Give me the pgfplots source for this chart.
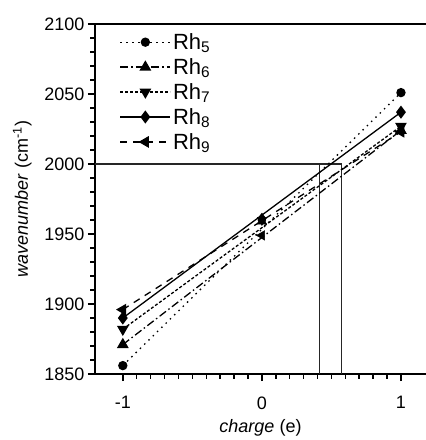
\documentclass[border=0pt]{standalone}
\usepackage{fontspec}
\setmainfont{Liberation Sans}
\usepackage{pgfplots}
\pgfplotsset{compat=1.18}

\begin{document}
\begin{tikzpicture}
\useasboundingbox (-95pt,-66pt) rectangle (331pt,374pt);
\begin{axis}[
    name=ax,
    at={(0,0)}, anchor=south west,
    scale only axis,
    width=331pt, height=350pt,
    xmin=-1.2, xmax=1.18,
    ymin=1850, ymax=2100,
    axis x line*=bottom, axis y line*=left,
    axis line style={line width=1.8pt},
    xtick={-1,0,1}, xticklabels={-1,0,1},
    minor x tick num=9,
    ytick={1850,1900,...,2100},
    minor y tick num=4,
    tick align=outside,
    major tick length=7pt, minor tick length=4.5pt,
    tick style={black, line width=1.5pt},
    /pgf/number format/assume math mode=true,
    /pgf/number format/1000 sep={},
    tick label style={font=\fontsize{18}{19}\selectfont},
    xticklabel style={yshift=-12pt},
    label style={font=\fontsize{18}{19}\selectfont},
    xlabel={\textit{charge} (e)},
    ylabel={\textit{wavenumber} (cm\textsuperscript{-1})},
    xlabel style={yshift=-3pt},
    ylabel style={yshift=6pt},
    legend style={draw=none, fill=none, at={(0.065,0.985)}, anchor=north west,
        font=\fontsize{22}{23}\selectfont, row sep=3.5pt,
        /tikz/every even column/.append style={column sep=1pt}},
    legend cell align=left,
    legend image code/.code={
        \draw[mark repeat=2, mark phase=2, #1] plot coordinates {(0pt,0pt) (25pt,0pt) (50pt,0pt)};
    },
    clip=false,
]
% reference lines
\draw[black!85, line width=1.1pt] (axis cs:-1.2,2000) -- (axis cs:0.573,2000);
\draw[black!85, line width=1.1pt] (axis cs:0.417,1850) -- (axis cs:0.417,2000);
\draw[black!85, line width=1.1pt] (axis cs:0.573,1850) -- (axis cs:0.573,2000);
\draw[black, line width=1.8pt] (rel axis cs:0,1) -- (rel axis cs:1,1);

% Rh5
\addplot[black, line width=1.3pt, dash pattern=on 1.5pt off 4.5pt, mark=*, mark size=4pt, mark options={solid}]
    coordinates {(-1,1856) (1,2051)};
\addlegendentry{Rh\textsubscript{5}}
% Rh6
\addplot[black, line width=1.3pt, dash pattern=on 8pt off 3pt on 1.5pt off 3pt, mark=triangle*, mark size=5.5pt, mark options={solid}]
    coordinates {(-1,1871) (1,2024)};
\addlegendentry{Rh\textsubscript{6}}
% Rh7
\addplot[black, line width=1.3pt, dash pattern=on 3pt off 2pt, mark=triangle*, mark size=5.5pt, mark options={solid, rotate=180}]
    coordinates {(-1,1882) (1,2027)};
\addlegendentry{Rh\textsubscript{7}}
% Rh8
\addplot[black, line width=1.3pt, mark=diamond*, mark size=5.5pt]
    coordinates {(-1,1890) (1,2037)};
\addlegendentry{Rh\textsubscript{8}}
% Rh9
\addplot[black, line width=1.3pt, dash pattern=on 7pt off 6pt, mark=triangle*, mark size=5.5pt, mark options={solid, rotate=90}]
    coordinates {(-1,1896) (1,2023)};
\addlegendentry{Rh\textsubscript{9}}

% points at zero charge
\addplot[black, only marks, mark=*, mark size=4pt, forget plot] coordinates {(0,1960)};
\addplot[black, only marks, mark=triangle*, mark size=5.5pt, forget plot] coordinates {(0,1959)};
\addplot[black, only marks, mark=triangle*, mark size=5.5pt, mark options={rotate=180}, forget plot] coordinates {(0,1960)};
\addplot[black, only marks, mark=diamond*, mark size=5.5pt, forget plot] coordinates {(0,1961)};
\addplot[black, only marks, mark=triangle*, mark size=5.5pt, mark options={rotate=90}, forget plot] coordinates {(0,1949)};
\end{axis}
\end{tikzpicture}
\end{document}
